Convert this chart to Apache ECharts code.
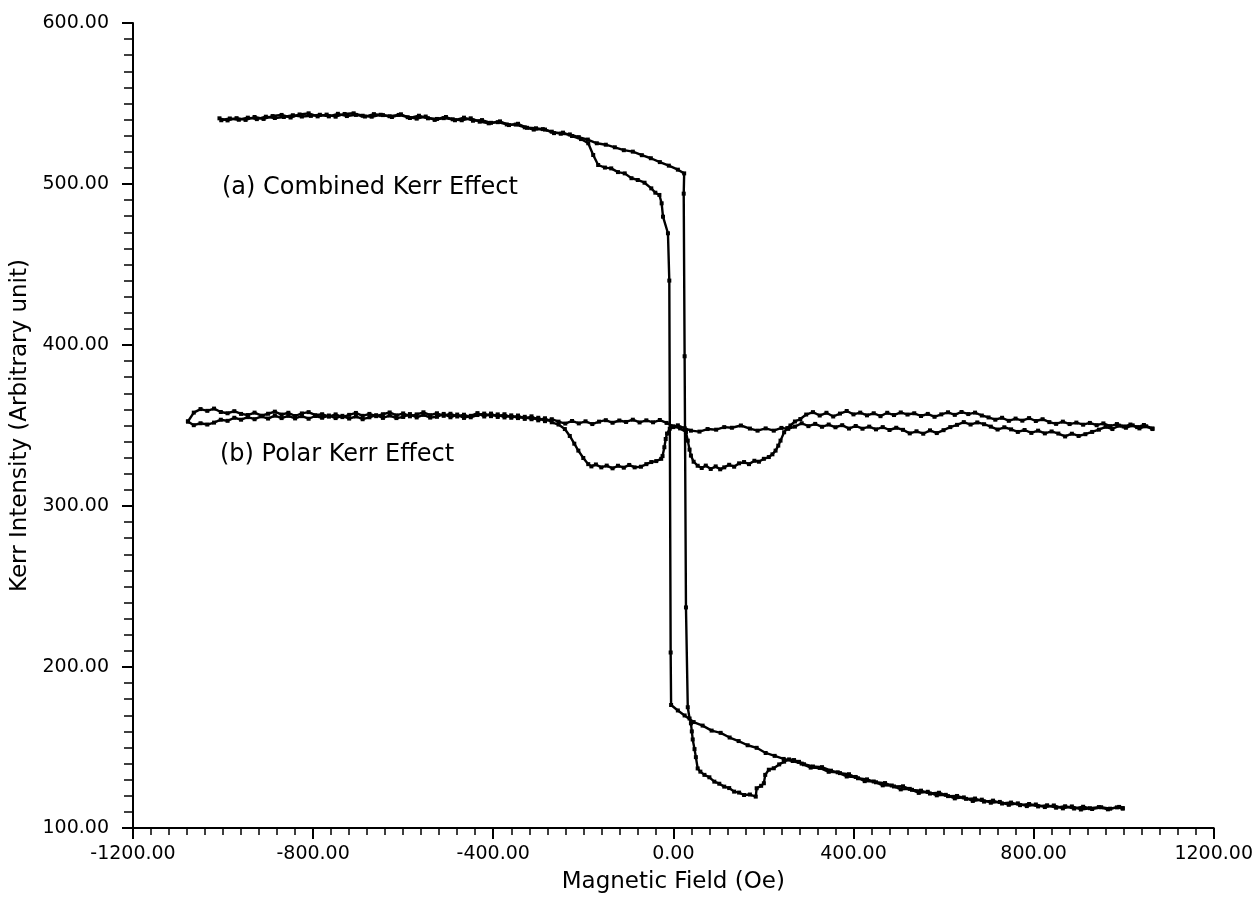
<!DOCTYPE html>
<html>
<head>
<meta charset="utf-8">
<title>Kerr loops</title>
<script src="https://cdn.jsdelivr.net/npm/echarts/dist/echarts.min.js"></script>
<style>
  html, body { margin: 0; padding: 0; background: #fff; }
  #chart { width: 1256px; height: 899px; }
</style>
</head>
<body>
<div id="chart"></div>
<script>
// x axis ticks (Oe) and y axis ticks
const fieldTicks = [-1200, -800, -400, 0, 400, 800, 1200]
const kerrTicks = [100, 200, 300, 400, 500, 600]

// (a) combined Kerr effect, field going up
const combUpField = [-1008, -990, -970, -950, -930, -910, -890, -870, -850, -830, -810, -790, -770, -750, -730, -710, -690, -670, -650, -630,
  -610, -590, -570, -550, -530, -510, -490, -470, -450, -430, -410, -390, -370, -350, -330, -310, -290, -270, -250, -230,
  -210, -190, -170, -150, -130, -110, -90, -70, -50, -30, -10, 10, 24, 23, 25, 28, 32,
  36, 39, 41, 43, 47, 50, 54, 60, 69, 80, 91, 102, 113, 124, 135, 146, 157, 170, 183, 185, 195, 201, 204, 212,
  223, 235, 246, 257, 268, 279, 290, 310, 330, 350, 370, 390, 410, 430, 450, 470, 490, 510, 530, 550,
  570, 590, 610, 630, 650, 670, 690, 710, 730, 750, 770, 790, 810, 830, 850, 870, 890, 910, 930, 950, 970, 990, 998]
const combUpKerr = [540.8, 539.5, 540.9, 539.8, 541.6, 540.4, 542.2, 542.9, 541.3, 543.2, 543.9, 542.0, 543.1, 541.8, 543.5, 543.9, 542.4, 541.8, 543.0, 542.1,
  542.9, 541.5, 540.6, 541.9, 539.8, 540.9, 540.2, 539.6, 540.8, 538.7, 537.7, 538.4, 537.0, 536.9, 535.2, 533.8, 534.1, 532.5, 531.2, 530.8,
  529.1, 527.6, 525.3, 524.4, 522.8, 521.0, 520.1, 517.9, 516.0, 513.6, 511.4, 508.9, 506.6, 494.0, 393.0, 237.0, 175.0,
  168.0, 165.0, 160.0, 155.0, 149.0, 144.0, 137.0, 135.0, 133.0, 131.5, 128.8, 127.5, 125.7, 124.8, 122.6, 122.0, 120.5, 120.8, 119.5, 124.7, 126.2, 127.8, 133.0, 136.2,
  137.1, 139.5, 141.2, 142.6, 142.2, 141.1, 139.6, 138.2, 137.8, 135.6, 134.1, 133.4, 130.9, 130.2, 128.4, 127.9, 125.8, 125.9, 123.7, 123.2,
  121.4, 121.9, 119.8, 119.9, 118.1, 118.3, 116.4, 117.0, 115.2, 115.8, 114.2, 114.9, 113.4, 114.1, 112.6, 113.5, 112.1, 113.2, 111.8, 112.9, 112.0, 113.1, 112.4]

// (a) combined Kerr effect, field going down
const combDownField = [998, 985, 965, 945, 925, 905, 885, 865, 845, 825, 805, 785, 765, 745, 725, 705, 685, 665, 645, 625,
  605, 585, 565, 545, 525, 505, 485, 465, 445, 425, 405, 385, 365, 345, 325, 305, 285, 265, 245, 225,
  205, 185, 165, 145, 125, 105, 85, 65, 45, 25, 10, -5, -6, -9, -12,
  -23, -26, -31, -40, -49, -64, -79, -93, -108, -123, -138, -152, -167, -178, -189,
  -205, -225, -245, -265, -285, -305, -325, -345, -365, -385, -405, -425, -445, -465, -485, -505, -525, -545, -565, -585,
  -605, -625, -645, -665, -685, -705, -725, -745, -765, -785, -805, -825, -845, -865, -885, -905, -925, -945, -965, -985, -1004]
const combDownKerr = [112.0, 112.8, 111.6, 113.0, 112.3, 111.5, 113.4, 112.2, 114.0, 113.0, 114.6, 113.6, 115.3, 114.4, 116.2, 115.7, 117.6, 116.8, 119.0, 118.4,
  120.6, 120.3, 122.5, 121.8, 124.3, 124.0, 126.4, 126.5, 128.9, 129.1, 131.7, 132.0, 134.6, 134.9, 137.3, 137.5, 140.0, 141.6, 142.9, 144.8,
  146.6, 149.8, 151.4, 154.0, 156.2, 159.1, 160.5, 163.6, 165.8, 169.9, 173.0, 176.4, 209.0, 440.0, 469.4,
  479.7, 488.0, 493.2, 494.6, 497.3, 500.8, 502.5, 503.6, 506.6, 507.4, 509.7, 510.2, 511.8, 518.0, 525.3,
  527.9, 529.8, 531.9, 531.6, 533.8, 534.6, 534.9, 537.4, 536.6, 538.9, 538.0, 539.7, 539.3, 541.2, 539.6, 541.6, 540.4, 540.8, 542.4, 541.0,
  543.3, 541.6, 542.8, 543.4, 541.9, 542.9, 542.2, 543.6, 542.0, 543.0, 542.3, 541.9, 542.7, 541.6, 541.0, 541.8, 540.3, 541.2, 539.9, 540.7, 539.6]

// (b) polar Kerr effect, field going up
const polarUpField = [-1078, -1065, -1050, -1035, -1020, -1005, -990, -975, -960, -945, -930, -915, -900, -885, -870, -855, -840, -825, -810, -795,
  -780, -765, -750, -735, -720, -705, -690, -675, -660, -645, -630, -615, -600, -585, -570, -555, -540, -525, -510, -495,
  -480, -465, -450, -435, -420, -405, -390, -375, -360, -345, -330, -315, -300, -285, -270, -255, -240, -225, -210, -195,
  -180, -165, -150, -135, -120, -105, -90, -75, -60, -45, -30, -15, 0, 15, 28, 32, 36, 39, 45, 54,
  63, 72, 83, 94, 104, 113, 124, 135, 146, 157, 168, 180, 190, 201, 212, 220, 227, 233, 238, 246,
  253, 260, 270, 282, 295, 310, 325, 340, 355, 370, 385, 400, 415, 430, 445, 460, 475, 490, 505, 520,
  535, 550, 565, 580, 595, 610, 625, 640, 655, 670, 685, 700, 715, 730, 745, 760, 775, 790, 805, 820,
  835, 850, 865, 880, 895, 910, 925, 940, 955, 970, 985, 1000, 1015, 1030, 1045, 1064]
const polarUpKerr = [352.5, 358.0, 360.2, 359.1, 360.5, 358.4, 357.6, 358.9, 357.2, 356.5, 358.0, 356.1, 357.3, 358.6, 356.8, 357.9, 355.9, 357.5, 358.3, 356.4,
  357.0, 355.5, 356.9, 355.2, 356.6, 357.8, 356.0, 357.2, 355.8, 357.0, 358.1, 356.3, 357.5, 355.7, 356.9, 358.2, 356.4, 357.6, 356.0, 357.3,
  355.6, 356.7, 355.1, 356.5, 357.4, 355.8, 356.9, 355.0, 356.3, 354.6, 355.4, 353.9, 354.8, 352.7, 353.9, 352.4, 351.2, 352.8, 351.3, 352.6,
  350.9, 352.4, 353.3, 351.7, 353.1, 352.2, 353.6, 351.9, 353.2, 352.0, 353.4, 351.6, 349.5, 348.2, 346.0, 340.6, 335.0, 331.3, 327.5, 325.0,
  323.6, 325.1, 323.0, 324.6, 322.8, 324.0, 325.6, 324.4, 326.5, 327.3, 326.0, 328.1, 327.5, 329.3, 330.4, 332.1, 334.4, 337.5, 340.6, 345.8,
  348.4, 350.0, 352.5, 354.0, 356.8, 358.3, 356.2, 357.9, 355.6, 357.4, 359.0, 356.9, 358.0, 356.3, 357.6, 355.8, 357.9, 356.5, 358.1, 356.8,
  357.6, 355.9, 357.2, 355.4, 356.9, 358.2, 356.6, 358.4, 357.1, 358.0, 356.2, 355.0, 353.6, 354.8, 352.9, 354.3, 353.0, 354.6, 352.8, 353.9,
  352.1, 351.0, 352.4, 350.9, 351.8, 350.5, 351.6, 350.2, 351.3, 349.6, 350.9, 349.4, 350.6, 349.0, 350.3, 348.2]

// (b) polar Kerr effect, field going down
const polarDownField = [1064, 1050, 1035, 1020, 1005, 990, 975, 960, 945, 930, 915, 900, 885, 870, 855, 840, 825, 810, 795, 780,
  765, 750, 735, 720, 705, 690, 675, 660, 645, 630, 615, 600, 585, 570, 555, 540, 525, 510, 495, 480,
  465, 450, 435, 420, 405, 390, 375, 360, 345, 330, 315, 300, 285, 270, 255, 240, 223, 205, 187, 170,
  150, 130, 113, 95, 76, 58, 39, 25, 10, 0, -8, -14, -17, -20, -24, -27, -38, -49, -60, -72,
  -86, -98, -110, -123, -135, -148, -160, -172, -182, -189, -200, -211, -220, -230, -241, -255, -270, -285, -300, -315,
  -330, -345, -360, -375, -390, -405, -420, -435, -450, -465, -480, -495, -510, -525, -540, -555, -570, -585, -600, -615,
  -630, -645, -660, -675, -690, -705, -720, -735, -750, -765, -780, -795, -810, -825, -840, -855, -870, -885, -900, -915,
  -930, -945, -960, -975, -990, -1005, -1020, -1035, -1050, -1065, -1078]
const polarDownKerr = [347.8, 349.5, 348.2, 350.1, 348.6, 349.9, 347.8, 349.2, 347.4, 346.0, 344.6, 343.5, 344.9, 343.2, 345.0, 346.3, 345.1, 346.8, 345.4, 347.2,
  346.0, 347.6, 348.9, 347.5, 349.3, 350.8, 351.9, 350.6, 352.1, 350.4, 349.0, 347.1, 345.3, 347.0, 344.9, 346.4, 345.1, 347.3, 348.6, 347.2,
  349.0, 347.6, 349.3, 348.0, 349.7, 348.1, 350.2, 348.9, 350.6, 349.2, 351.0, 349.6, 351.4, 349.3, 347.9, 348.5, 346.8, 348.2, 346.8, 348.1,
  350.0, 348.6, 349.0, 347.4, 347.8, 346.2, 346.8, 348.3, 350.1, 349.0, 348.0, 345.0, 341.6, 336.5, 331.0, 329.3, 327.9, 327.3, 326.0, 324.4,
  324.0, 325.5, 323.8, 325.0, 323.4, 325.1, 324.0, 325.8, 324.6, 326.0, 329.8, 334.4, 338.7, 343.5, 347.8, 350.6, 352.0, 354.5, 353.2, 355.7,
  354.1, 356.2, 354.8, 357.0, 355.3, 357.4, 355.6, 357.7, 356.0, 354.7, 356.8, 355.1, 357.2, 355.4, 354.9, 356.6, 355.0, 357.1, 355.3, 354.6,
  356.2, 354.7, 356.4, 355.1, 353.9, 355.6, 354.3, 356.0, 354.6, 356.2, 354.8, 355.9, 354.2, 355.8, 354.4, 356.0, 354.6, 356.1, 354.3, 355.7,
  353.9, 355.2, 353.6, 354.8, 352.9, 353.6, 351.8, 350.6, 351.4, 350.2, 352.5]

const labelFont = 'DejaVu Sans'

function pairs(xs, ys) {
  return xs.map((x, i) => [x, ys[i]])
}

function loopSeries(name, xs, ys) {
  return {
    name: name,
    type: 'line',
    data: pairs(xs, ys),
    symbol: 'rect',
    symbolSize: 4,
    showSymbol: true,
    lineStyle: { color: '#000', width: 2.4 },
    itemStyle: { color: '#000' },
    silent: true
  }
}

const chart = echarts.init(document.getElementById('chart'))

const option = {
  animation: false,
  backgroundColor: '#fff',
  grid: { left: 133, right: 37, top: 23, bottom: 69 },
  xAxis: {
    type: 'value',
    position: 'bottom',
    min: fieldTicks[0],
    max: fieldTicks[fieldTicks.length - 1],
    interval: 400,
    name: 'Magnetic Field (Oe)',
    nameLocation: 'middle',
    nameGap: 43,
    nameTextStyle: { fontFamily: labelFont, fontSize: 23, color: '#000' },
    axisLine: { onZero: false, lineStyle: { color: '#000', width: 2 } },
    axisTick: { length: 11, lineStyle: { color: '#000', width: 2 } },
    minorTick: { show: true, splitNumber: 10, length: 7, lineStyle: { color: '#000', width: 1.5 } },
    splitLine: { show: false },
    axisLabel: {
      margin: 17,
      fontFamily: labelFont,
      fontSize: 19,
      color: '#000',
      formatter: v => v.toFixed(2)
    }
  },
  yAxis: {
    type: 'value',
    position: 'left',
    min: kerrTicks[0],
    max: kerrTicks[kerrTicks.length - 1],
    interval: 100,
    name: 'Kerr Intensity (Arbitrary unit)',
    nameLocation: 'middle',
    nameGap: 92,
    nameTextStyle: { fontFamily: labelFont, fontSize: 23, color: '#000' },
    axisLine: { show: true, onZero: false, lineStyle: { color: '#000', width: 2 } },
    axisTick: { show: true, length: 11, lineStyle: { color: '#000', width: 2 } },
    minorTick: { show: true, splitNumber: 10, length: 9, lineStyle: { color: '#000', width: 1.5 } },
    splitLine: { show: false },
    axisLabel: {
      margin: 24,
      fontFamily: labelFont,
      fontSize: 19,
      color: '#000',
      formatter: v => v.toFixed(2)
    }
  },
  graphic: [
    {
      type: 'text',
      left: 222,
      top: 176,
      style: { text: '(a) Combined Kerr Effect', font: '24px "DejaVu Sans"', fill: '#000' }
    },
    {
      type: 'text',
      left: 220,
      top: 443,
      style: { text: '(b) Polar Kerr Effect', font: '24px "DejaVu Sans"', fill: '#000' }
    }
  ],
  series: [
    loopSeries('combined up', combUpField, combUpKerr),
    loopSeries('combined down', combDownField, combDownKerr),
    loopSeries('polar up', polarUpField, polarUpKerr),
    loopSeries('polar down', polarDownField, polarDownKerr)
  ]
}

chart.setOption(option)
</script>
</body>
</html>
